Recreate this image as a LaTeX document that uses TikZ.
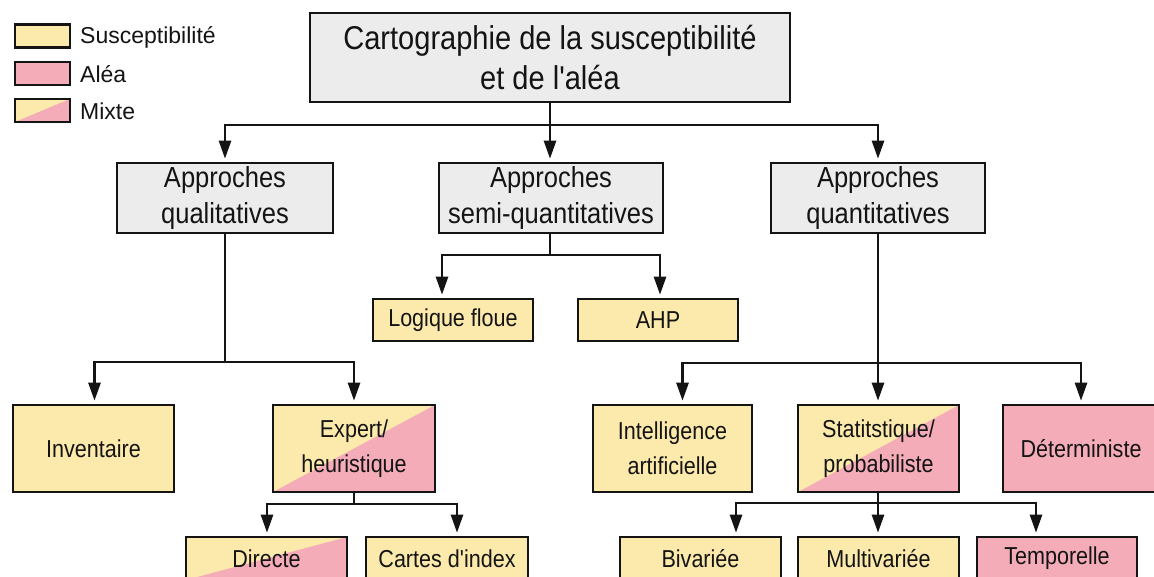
\documentclass[tikz,border=0pt]{standalone}
\usepackage{fontspec}
\setmainfont{Liberation Sans}[FakeStretch=0.88, Ligatures=TeXOff]
\newfontfamily\legfont{Liberation Sans}
\usetikzlibrary{arrows.meta}
\definecolor{sus}{RGB}{252,233,172}
\definecolor{alea}{RGB}{243,172,184}
\definecolor{grisbox}{RGB}{236,236,236}
\definecolor{ink}{RGB}{20,20,20}
\tikzset{
  bx/.style={draw=ink, line width=2.6pt, inner sep=0pt, align=center, text=ink},
  gbox/.style={bx, fill=grisbox, font=\fontsize{29}{36}\selectfont},
  tbox/.style={bx, fill=grisbox, font=\fontsize{33}{40}\selectfont},
  lowbox/.style={bx, font=\fontsize{24.5}{35}\selectfont},
  sbox/.style={lowbox, fill=sus},
  abox/.style={lowbox, fill=alea},
  mbox/.style={lowbox, fill=sus, path picture={\fill[alea] (path picture bounding box.south west) -- (path picture bounding box.north east) -- (path picture bounding box.south east) -- cycle;}},
  legbox/.style={bx, minimum width=55pt, minimum height=23pt},
  legtxt/.style={anchor=west, inner sep=0pt, text=ink, font=\legfont\fontsize{23}{23}\selectfont},
  arr/.style={draw=ink, line width=2.6pt, -{Triangle[length=18pt,width=12pt]}, shorten >=3pt},
}
\begin{document}
\begin{tikzpicture}[x=1pt,y=-1pt]
\useasboundingbox (0,0) rectangle (1154,576);
\clip (0,0) rectangle (1154,576);
\fill[white] (0,0) rectangle (1154,576);

% legend
\node[legbox, fill=sus] (l1) at (42.5,36) {};
\node[legbox, fill=alea] (l2) at (42.5,73.5) {};
\node[legbox, fill=sus, path picture={\fill[alea] (path picture bounding box.south west) -- (path picture bounding box.north east) -- (path picture bounding box.south east) -- cycle;}] (l3) at (42.5,110.5) {};
\node[legtxt] (t1) at (80,37) {Susceptibilité};
\node[legtxt] (t2) at (80,74) {Aléa};
\node[legtxt] (t3) at (80,111) {Mixte};

% title
\node[tbox, minimum width=480pt, minimum height=89pt] (title) at (550,57.5) {Cartographie de la susceptibilité\\et de l'aléa};

% level 2
\node[gbox, minimum width=216pt, minimum height=70pt] (qual) at (225,198) {Approches\\qualitatives};
\node[gbox, minimum width=224pt, minimum height=70pt] (semi) at (551,198) {Approches\\semi-quantitatives};
\node[gbox, minimum width=214pt, minimum height=70pt] (quant) at (878,198) {Approches\\quantitatives};

% semi children
\node[sbox, minimum width=160pt, minimum height=42pt] (logique) at (453,320) {Logique floue};
\node[sbox, minimum width=160pt, minimum height=42pt] (ahp) at (658,320) {AHP};

% level 3
\node[sbox, minimum width=161pt, minimum height=87pt] (inv) at (93.5,448.5) {Inventaire};
\node[mbox, minimum width=162pt, minimum height=87pt] (expert) at (354,448.5) {Expert/\\heuristique};
\node[sbox, minimum width=159pt, minimum height=87pt] (intel) at (672.5,448.5) {Intelligence\\artificielle};
\node[mbox, minimum width=161pt, minimum height=87pt] (stat) at (878.5,448.5) {Statitstique/\\probabiliste};
\node[abox, minimum width=156pt, minimum height=87pt] (determ) at (1081,448.5) {Déterministe};

% level 4
\node[mbox, minimum width=161pt, minimum height=43pt] (directe) at (266.5,558.5) {Directe};
\node[sbox, minimum width=162pt, minimum height=43pt] (cartes) at (447,558.5) {Cartes d'index};
\node[sbox, minimum width=161pt, minimum height=43pt] (biv) at (700.5,558.5) {Bivariée};
\node[sbox, minimum width=161pt, minimum height=43pt] (multi) at (878.5,558.5) {Multivariée};
\node[abox, minimum width=160pt, minimum height=43pt] (temp) at (1057,558.5) {Temporelle};

% connectors
\coordinate (h1) at (550,125);
\draw[arr] (title.south) -- (title.south |- h1) -| (qual.north);
\draw[arr] (title.south) -- (title.south |- h1) -| ([xshift=-1pt]semi.north);
\draw[arr] (title.south) -- (title.south |- h1) -| (quant.north);

\coordinate (h2) at (550,255);
\draw[arr] ([xshift=-1pt]semi.south) -- ([xshift=-1pt]semi.south |- h2) -| ([xshift=-11pt]logique.north);
\draw[arr] ([xshift=-1pt]semi.south) -- ([xshift=-1pt]semi.south |- h2) -| ([xshift=2pt]ahp.north);

\coordinate (h3) at (225,362);
\draw[arr] (qual.south) -- (qual.south |- h3) -| ([xshift=1pt]inv.north);
\draw[arr] (qual.south) -- (qual.south |- h3) -| (expert.north);

\coordinate (h4) at (878,363);
\draw[arr] (quant.south) -- (quant.south |- h4) -| ([xshift=10pt]intel.north);
\draw[arr] (quant.south) -- (quant.south |- h4) -| ([xshift=-0.5pt]stat.north);
\draw[arr] (quant.south) -- (quant.south |- h4) -| (determ.north);

\coordinate (h5) at (354,504);
\draw[arr] (expert.south) -- (expert.south |- h5) -| ([xshift=0.5pt]directe.north);
\draw[arr] (expert.south) -- (expert.south |- h5) -| ([xshift=10pt]cartes.north);

\coordinate (h6) at (878,503);
\draw[arr] ([xshift=-0.5pt]stat.south) -- ([xshift=-0.5pt]stat.south |- h6) -| ([xshift=35.5pt]biv.north);
\draw[arr] ([xshift=-0.5pt]stat.south) -- ([xshift=-0.5pt]stat.south |- h6) -| ([xshift=-0.5pt]multi.north);
\draw[arr] ([xshift=-0.5pt]stat.south) -- ([xshift=-0.5pt]stat.south |- h6) -| ([xshift=-21pt]temp.north);
\end{tikzpicture}
\end{document}
